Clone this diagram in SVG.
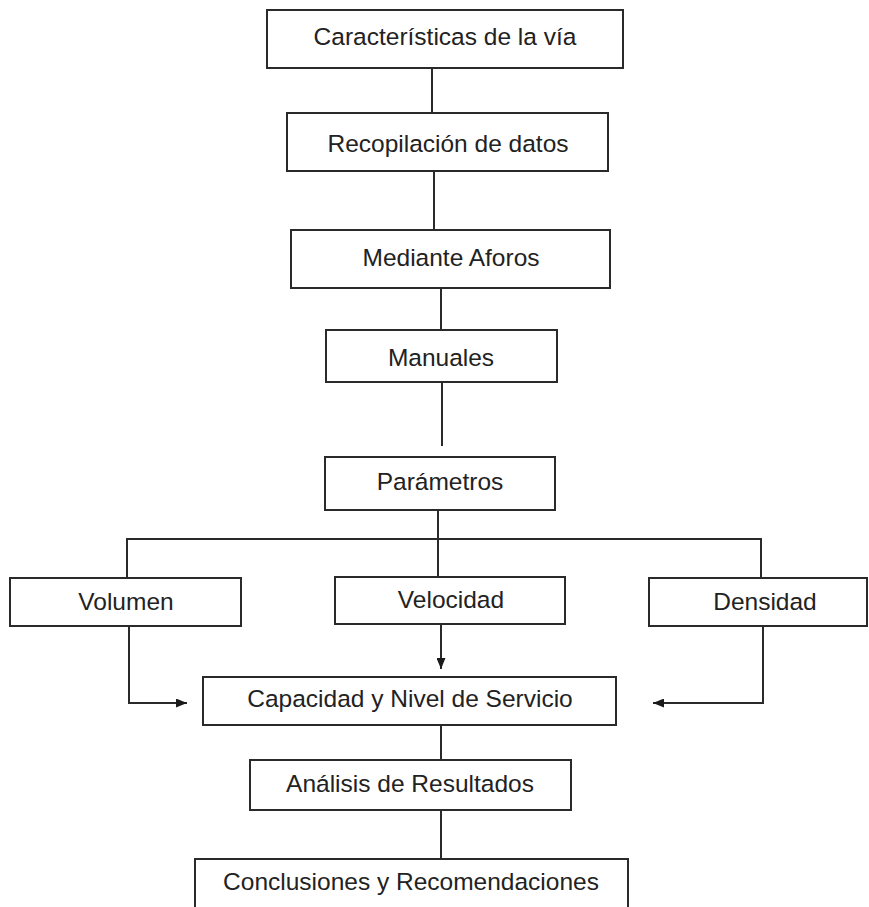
<svg xmlns="http://www.w3.org/2000/svg" width="869" height="907" viewBox="0 0 869 907">
  <style>
    .box { fill: #ffffff; stroke: #2a2a2a; stroke-width: 2; }
    .lbl { font-family: "Liberation Sans", Arial, sans-serif; font-size: 24.5px; fill: #222222; text-anchor: middle; }
    .wire { fill: none; stroke: #2a2a2a; stroke-width: 2; }
  </style>
  <defs>
    <marker id="arrow" markerUnits="userSpaceOnUse" markerWidth="11" markerHeight="9" refX="11" refY="4.5" orient="auto">
      <path d="M0,0 L11,4.5 L0,9 z" fill="#1a1a1a"/>
    </marker>
  </defs>
  <rect width="869" height="907" fill="#ffffff"/>

  <!-- connectors -->
  <g id="connectors">
    <line class="wire" x1="432" y1="68" x2="432" y2="113"/>
    <line class="wire" x1="434" y1="171" x2="434" y2="230"/>
    <line class="wire" x1="441" y1="288" x2="441" y2="330"/>
    <line class="wire" x1="442" y1="382" x2="442" y2="446"/>
    <!-- branch from Parámetros to the three parameters -->
    <line class="wire" x1="438" y1="510" x2="438" y2="577"/>
    <path class="wire" d="M127,578 V539 H761 V578"/>
    <!-- parameters into Capacidad y Nivel de Servicio -->
    <path class="wire" d="M129,626 V703 H187" marker-end="url(#arrow)"/>
    <line class="wire" x1="441" y1="624" x2="441" y2="669" marker-end="url(#arrow)"/>
    <path class="wire" d="M763,626 V703 H653" marker-end="url(#arrow)"/>
    <line class="wire" x1="441" y1="725" x2="441" y2="760"/>
    <line class="wire" x1="441" y1="810" x2="441" y2="859"/>
  </g>

  <g id="caracteristicas">
    <rect class="box" x="267" y="10" width="356" height="58"/>
    <text class="lbl" x="445" y="45">Características de la vía</text>
  </g>
  <g id="recopilacion">
    <rect class="box" x="287" y="113" width="321" height="58"/>
    <text class="lbl" x="448" y="152">Recopilación de datos</text>
  </g>
  <g id="aforos">
    <rect class="box" x="291" y="230" width="319" height="58"/>
    <text class="lbl" x="451" y="266">Mediante Aforos</text>
  </g>
  <g id="manuales">
    <rect class="box" x="326" y="330" width="231" height="52"/>
    <text class="lbl" x="441" y="366">Manuales</text>
  </g>
  <g id="parametros">
    <rect class="box" x="325" y="457" width="230" height="53"/>
    <text class="lbl" x="440" y="490">Parámetros</text>
  </g>
  <g id="volumen">
    <rect class="box" x="10" y="578" width="231" height="48"/>
    <text class="lbl" x="126" y="610">Volumen</text>
  </g>
  <g id="velocidad">
    <rect class="box" x="335" y="577" width="230" height="47"/>
    <text class="lbl" x="451" y="608">Velocidad</text>
  </g>
  <g id="densidad">
    <rect class="box" x="649" y="578" width="218" height="48"/>
    <text class="lbl" x="765" y="610">Densidad</text>
  </g>
  <g id="capacidad">
    <rect class="box" x="203" y="677" width="413" height="48"/>
    <text class="lbl" x="410" y="707">Capacidad y Nivel de Servicio</text>
  </g>
  <g id="analisis">
    <rect class="box" x="250" y="760" width="321" height="50"/>
    <text class="lbl" x="410" y="792">Análisis de Resultados</text>
  </g>
  <g id="conclusiones">
    <rect class="box" x="195" y="859" width="433" height="60"/>
    <text class="lbl" x="411" y="890">Conclusiones y Recomendaciones</text>
  </g>
</svg>
